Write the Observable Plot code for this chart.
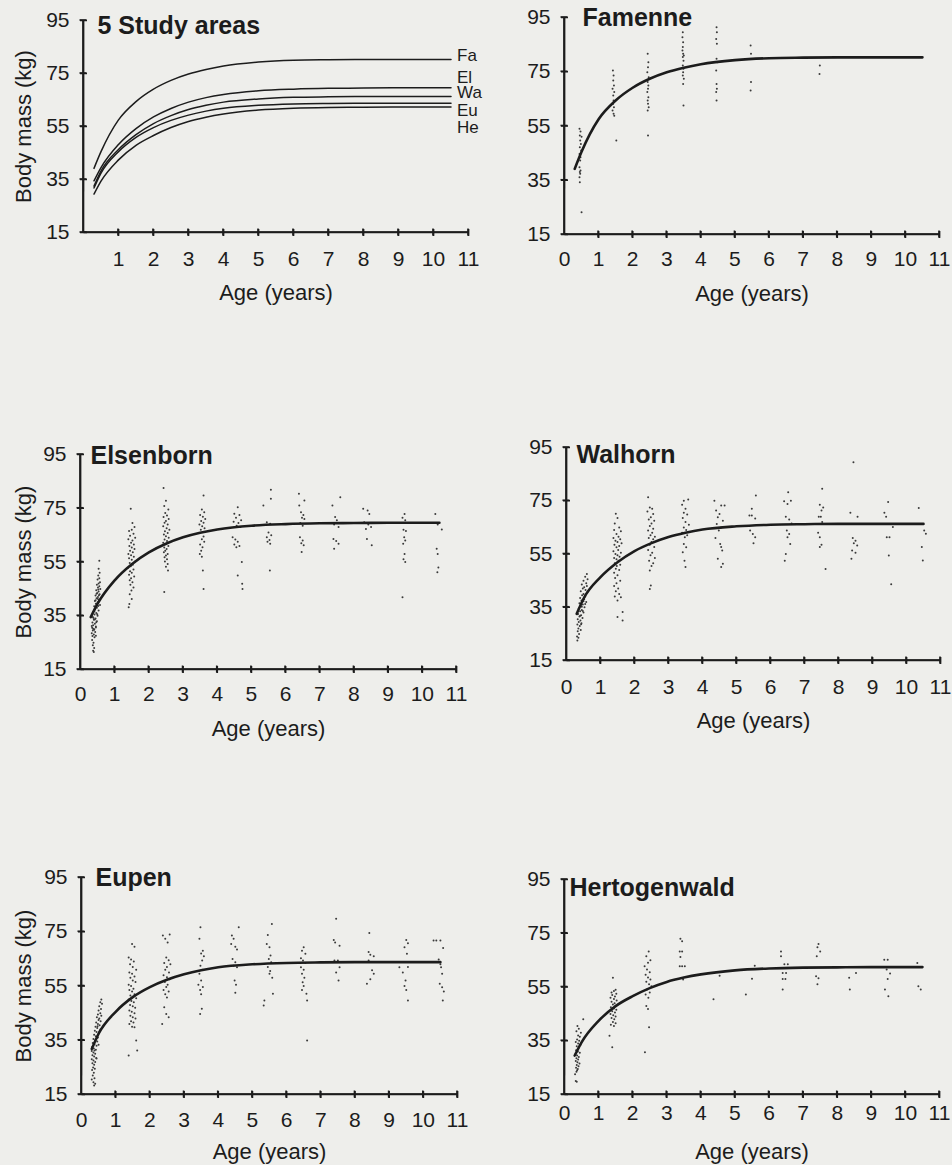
<!DOCTYPE html>
<html>
<head>
<meta charset="utf-8">
<script src="https://cdn.jsdelivr.net/npm/d3@7"></script>
<script src="https://cdn.jsdelivr.net/npm/@observablehq/plot@0.6"></script>
<style>
  body { margin: 0; background: #eeeeeb; }
  #root { position: relative; width: 952px; height: 1165px; overflow: hidden; }
  .panel { position: absolute; width: 476px; }
</style>
</head>
<body>
<div id="root"></div>
<script>
// ---------- DATA ----------
const areaNames = ["Famenne", "Elsenborn", "Walhorn", "Eupen", "Hertogenwald"];
const areaCodes = ["Fa", "El", "Wa", "Eu", "He"];
const xTicksAll = [0, 1, 2, 3, 4, 5, 6, 7, 8, 9, 10, 11];
const xTicksNoZero = [1, 2, 3, 4, 5, 6, 7, 8, 9, 10, 11];
const yTicks = [15, 35, 55, 75, 95];

// fitted growth curves (age in years, body mass in kg)
const curveAge = [0.3, 0.5, 1, 1.5, 2, 2.5, 3, 3.5, 4, 5, 6, 7, 8, 9, 10.5];
const curveFamenne      = [39.2, 45.5, 57.5, 64.4, 69.1, 72.4, 74.8, 76.5, 77.8, 79.3, 80.0, 80.2, 80.3, 80.3, 80.3];
const curveElsenborn    = [34.5, 39.5, 48.2, 54.2, 58.6, 61.8, 64.2, 65.9, 67.1, 68.5, 69.1, 69.4, 69.5, 69.6, 69.6];
const curveWalhorn      = [32.5, 38.2, 46.3, 51.9, 56.1, 59.1, 61.4, 63.0, 64.2, 65.4, 66.0, 66.2, 66.3, 66.3, 66.3];
const curveEupen        = [31.8, 37.4, 45.5, 50.9, 54.6, 57.3, 59.3, 60.8, 61.9, 63.0, 63.5, 63.7, 63.8, 63.8, 63.8];
const curveHertogenwald = [29.5, 34.4, 42.4, 47.9, 51.6, 54.6, 56.9, 58.5, 59.7, 61.2, 61.9, 62.2, 62.3, 62.4, 62.4];

// individual observations [age, mass]
const famennePts = [
 [0.44,54],[0.47,53],[0.45,51.5],[0.5,51],[0.46,49.7],[0.48,48.4],[0.45,47.2],[0.49,46],[0.44,44.7],[0.47,43.5],[0.46,42.3],[0.44,39.8],[0.47,38.6],[0.45,38],[0.46,37.4],[0.44,36.1],[0.45,34.3],[0.5,23.2],
 [1.42,75.5],[1.44,73.6],[1.43,71.8],[1.45,69.9],[1.41,68.7],[1.46,67.5],[1.43,66.2],[1.44,64.4],[1.42,63.1],[1.45,61.9],[1.41,60.7],[1.44,59.5],[1.46,58.8],[1.52,49.7],
 [2.44,81.6],[2.46,78.5],[2.45,76.7],[2.43,74.8],[2.47,73],[2.44,71.2],[2.46,69.9],[2.45,68.7],[2.43,67.5],[2.46,65.6],[2.44,64.4],[2.45,63.2],[2.47,61.9],[2.44,60.7],[2.45,51.5],
 [3.47,89.6],[3.46,87.7],[3.48,85.9],[3.47,84.1],[3.46,82.8],[3.48,81.6],[3.5,81],[3.47,80.4],[3.49,79.1],[3.47,77.3],[3.49,76.1],[3.48,74.8],[3.47,73.6],[3.5,72.4],[3.48,70.5],[3.49,62.6],
 [4.46,91.4],[4.47,89.6],[4.45,87.1],[4.47,85.3],[4.46,79.8],[4.48,78.5],[4.45,75.5],[4.46,70.5],[4.47,68.7],[4.45,67.5],[4.46,64.4],
 [5.46,84.7],[5.47,81.6],[5.47,71.2],[5.46,68.1],
 [7.49,77.3],[7.48,74.2]
];
const elsenbornPts = [
 [0.55,55.5],[0.53,52.5],[0.56,51],[0.52,50],[0.55,49],[0.5,48.5],[0.57,47.5],[0.53,47],[0.48,46.5],[0.55,46],[0.51,45.5],[0.58,45],[0.46,44.5],[0.53,44],[0.49,43.5],[0.56,43],[0.44,42.5],[0.51,42],[0.47,41.5],[0.54,41],[0.42,40.5],[0.5,40],[0.45,39.5],[0.57,39],[0.4,38.5],[0.48,38],[0.43,37.5],[0.53,37],[0.38,36.5],[0.46,36],[0.41,35.5],[0.5,35],[0.36,34.5],[0.44,34],[0.39,33.5],[0.48,33],[0.35,32.5],[0.42,32],[0.37,31.5],[0.45,31],[0.34,30.5],[0.4,30],[0.36,29.5],[0.43,29],[0.33,28.5],[0.39,28],[0.35,27.5],[0.41,27],[0.34,26],[0.38,25],[0.36,24],[0.4,23],[0.37,22],[0.39,21.5],[0.52,44.8],[0.47,43.2],[0.44,40.8],[0.52,38.6],[0.41,36.8],[0.49,35.6],[0.38,34.2],[0.46,32.6],[0.33,31.2],[0.4,29.8],[0.45,30.6],[0.5,41.3],[0.54,42.6],[0.42,33.6],[0.37,30.2],[0.45,27.6],
 [1.47,74.8],[1.52,69.5],[1.58,68],[1.5,67],[1.42,66.5],[1.55,65.5],[1.45,64.8],[1.6,64],[1.4,63.5],[1.52,63],[1.48,62.2],[1.56,61.5],[1.43,61],[1.5,60.4],[1.58,59.8],[1.45,59.2],[1.53,58.6],[1.4,58],[1.48,57.5],[1.56,57],[1.42,56.4],[1.5,55.8],[1.6,55.2],[1.44,54.6],[1.53,54],[1.47,53.4],[1.38,52.8],[1.55,52.2],[1.45,51.6],[1.5,51],[1.42,50.3],[1.57,49.6],[1.48,49],[1.44,48.2],[1.52,47.5],[1.46,46.5],[1.55,45.5],[1.49,44.4],[1.44,43],[1.5,41.2],[1.43,39.4],[1.41,38.2],
 [2.43,82.5],[2.5,77.8],[2.45,75.8],[2.57,74.5],[2.48,73.2],[2.53,72.3],[2.43,71.7],[2.58,71],[2.5,70.3],[2.46,69.6],[2.55,69],[2.42,68.3],[2.52,67.6],[2.6,67],[2.47,66.4],[2.55,65.8],[2.44,65.2],[2.5,64.6],[2.58,64],[2.46,63.4],[2.53,62.8],[2.42,62.2],[2.5,61.6],[2.57,61],[2.45,60.4],[2.52,59.8],[2.48,59.2],[2.44,58.6],[2.55,58],[2.5,57.4],[2.46,56.8],[2.53,56],[2.47,55.2],[2.55,54.3],[2.5,53.2],[2.56,51.8],[2.45,43.8],
 [3.6,79.7],[3.55,74.5],[3.62,73.5],[3.5,72.5],[3.58,71.8],[3.65,71],[3.53,70.3],[3.6,69.6],[3.48,69],[3.56,68.3],[3.63,67.6],[3.52,67],[3.58,66.2],[3.6,64.5],[3.55,63.5],[3.62,62.5],[3.5,61.5],[3.57,60.5],[3.53,59.2],[3.49,58],[3.55,57],[3.58,51.8],[3.6,45],
 [4.6,75.4],[4.5,73],[4.65,72.5],[4.55,71.5],[4.7,70.5],[4.48,70],[4.62,69.5],[4.57,68.5],[4.68,68],[4.45,64.2],[4.53,63.4],[4.6,62.5],[4.5,61.5],[4.65,61],[4.56,60.5],[4.72,55],[4.6,50],[4.73,46.9],[4.74,45],
 [5.57,81.9],[5.57,78.5],[5.35,76],[5.45,69.8],[5.55,69.2],[5.5,66],[5.58,65],[5.45,64.2],[5.53,63.2],[5.47,62.5],[5.55,61.8],[5.54,51.8],
 [6.39,80.4],[6.55,77.9],[6.4,76],[6.45,73.5],[6.52,72.5],[6.48,71.5],[6.55,71],[6.43,69.5],[6.5,68.5],[6.42,64.2],[6.5,63],[6.46,62],[6.53,61.2],[6.47,58.7],
 [7.6,79.1],[7.37,76],[7.45,71.7],[7.5,70.5],[7.42,69],[7.55,68],[7.4,63.6],[7.48,62.8],[7.55,61.8],[7.42,59.9],
 [8.27,74.8],[8.4,74.2],[8.45,72.9],[8.3,69.8],[8.42,69],[8.5,68],[8.35,67.3],[8.38,63.6],[8.52,61.2],
 [9.48,72.9],[9.42,71.5],[9.5,70.5],[9.45,67],[9.52,66.5],[9.47,64.2],[9.5,63],[9.44,61.8],[9.48,58],[9.45,56],[9.5,55],[9.42,41.9],
 [10.38,72.9],[10.45,69],[10.57,67.1],[10.42,59.9],[10.45,58],[10.47,53],[10.44,51.2]
];
const walhornPts = [
 [0.6,47.5],[0.55,46.5],[0.62,45.5],[0.5,45],[0.58,44],[0.45,43.5],[0.6,43],[0.52,42.5],[0.48,42],[0.56,41.5],[0.42,41],[0.6,40.5],[0.5,40],[0.46,39.5],[0.55,39],[0.4,38.5],[0.52,38],[0.44,37.5],[0.58,37],[0.38,36.5],[0.48,36],[0.42,35.5],[0.53,35],[0.36,34.5],[0.45,34],[0.4,33.5],[0.5,33],[0.34,32.5],[0.43,32],[0.38,31.5],[0.47,31],[0.33,30.5],[0.41,30],[0.36,29.5],[0.44,29],[0.32,28.5],[0.39,28],[0.35,27],[0.42,26.5],[0.33,26],[0.37,25],[0.31,24],[0.35,23.5],[0.32,22.5],[0.5,37.3],[0.45,35.2],[0.55,36.2],[0.4,31.8],[0.48,33.6],[0.43,28.6],
 [1.45,70.1],[1.5,68.5],[1.42,66.5],[1.55,65],[1.4,64],[1.6,63.5],[1.47,62.5],[1.53,61.5],[1.38,61],[1.58,60.5],[1.44,60],[1.5,59.5],[1.62,59],[1.41,58.5],[1.55,58],[1.47,57.5],[1.52,56.5],[1.38,56],[1.6,55.5],[1.44,55],[1.5,54.5],[1.56,54],[1.4,53.5],[1.47,53],[1.53,52.5],[1.42,51.5],[1.58,51],[1.48,50.5],[1.45,49.5],[1.55,49],[1.4,48],[1.5,47],[1.43,46],[1.58,45],[1.47,44],[1.4,43],[1.52,42],[1.45,41],[1.55,40],[1.42,39],[1.6,38.8],[1.5,37.5],[1.65,33.2],[1.65,30],[1.5,31.3],
 [2.4,76.3],[2.45,72.5],[2.52,72],[2.38,71],[2.55,70],[2.48,68.8],[2.42,68],[2.58,67.5],[2.5,66.5],[2.45,65.5],[2.55,64.5],[2.4,63.8],[2.52,63],[2.47,62],[2.6,61.5],[2.42,61],[2.55,60.5],[2.5,59.5],[2.45,58.5],[2.58,57.6],[2.4,56.5],[2.52,55.5],[2.47,54.5],[2.6,53.5],[2.43,52.5],[2.55,51.5],[2.5,50.5],[2.45,48.8],[2.48,43.2],[2.45,41.9],
 [3.45,75],[3.58,75.5],[3.4,73.5],[3.5,72],[3.45,70.5],[3.55,69.8],[3.42,68.5],[3.5,67],[3.6,66],[3.45,65],[3.52,64],[3.4,63],[3.55,62],[3.48,61.3],[3.45,58.8],[3.52,57.5],[3.42,55.7],[3.47,52.5],[3.5,50.1],
 [4.35,75],[4.55,73.2],[4.65,73.2],[4.4,71.3],[4.5,70],[4.45,68.8],[4.6,67.5],[4.42,66.3],[4.55,65],[4.48,63.8],[4.38,61],[4.52,58.8],[4.55,57.6],[4.58,56.3],[4.45,53.2],[4.6,51.3],[4.55,50.1],
 [5.57,77],[5.45,72],[5.38,69.5],[5.45,69.5],[5.55,68.3],[5.4,63.8],[5.48,62.5],[5.55,61.3],[5.5,59],
 [6.52,78.2],[6.6,75],[6.4,74.8],[6.5,73.8],[6.45,69],[6.55,68],[6.62,66.5],[6.48,63.8],[6.55,62.5],[6.5,61.3],[6.58,58.8],[6.45,55],[6.42,52.5],
 [7.52,79.5],[7.45,73.5],[7.55,72.5],[7.5,71.3],[7.42,69],[7.48,69],[7.52,67],[7.4,63],[7.45,61.3],[7.5,58.5],[7.45,57.6],[7.62,49.4],
 [8.44,89.5],[8.35,70.5],[8.56,69],[8.42,61],[8.5,60],[8.45,59],[8.55,58.2],[8.4,56.3],[8.5,55.5],[8.38,53.2],
 [9.46,74.5],[9.35,70.5],[9.4,69],[9.6,65.1],[9.42,61.3],[9.5,61.3],[9.48,54.4],[9.55,43.6],
 [10.36,72.3],[10.57,62.6],[10.52,63.8],[10.45,57.6],[10.48,52.6]
];
const eupenPts = [
 [0.58,50],[0.55,49],[0.6,48.5],[0.52,47.5],[0.57,46.5],[0.5,46],[0.55,45],[0.48,44.5],[0.58,44],[0.45,43.5],[0.52,43],[0.5,42.5],[0.56,42],[0.43,41.5],[0.48,41],[0.53,40.5],[0.41,40],[0.46,39.5],[0.55,39],[0.39,38.5],[0.44,38],[0.5,37.5],[0.37,37],[0.42,36.5],[0.48,36],[0.35,35.5],[0.4,35],[0.46,34.5],[0.33,34],[0.38,33.5],[0.44,33],[0.31,32.5],[0.36,32],[0.42,31.5],[0.3,31],[0.35,30.5],[0.4,30],[0.32,29.5],[0.37,29],[0.43,28.5],[0.3,28],[0.35,27.5],[0.4,27],[0.32,26.5],[0.37,26],[0.34,25],[0.39,24.5],[0.31,24],[0.36,23],[0.33,22],[0.38,21],[0.3,20.5],[0.35,19.5],[0.4,19],[0.37,18.3],[0.47,40.2],[0.52,38.2],[0.45,35.8],[0.5,33.3],[0.38,31.2],[0.44,28.3],
 [1.48,70.5],[1.55,69.5],[1.38,65.5],[1.45,64.8],[1.53,64],[1.42,63],[1.5,62],[1.6,61],[1.4,60],[1.48,59.5],[1.55,58.5],[1.43,58],[1.5,57],[1.58,56.5],[1.38,55.5],[1.45,55],[1.52,54],[1.4,53.5],[1.48,53],[1.55,52],[1.43,51.5],[1.5,51],[1.6,50.5],[1.38,50],[1.46,49.5],[1.53,49],[1.42,48],[1.5,47.5],[1.57,47],[1.4,46],[1.47,45.5],[1.55,45],[1.43,44],[1.5,43.5],[1.58,43],[1.45,42],[1.52,41.5],[1.4,41],[1.48,40],[1.55,39.8],[1.6,34.9],[1.63,31.2],[1.38,29.4],
 [2.38,73.6],[2.58,74],[2.45,72.4],[2.52,71],[2.48,65.5],[2.55,64.5],[2.42,63.5],[2.6,63],[2.5,62],[2.45,61],[2.56,60],[2.4,59],[2.5,58.2],[2.58,57.5],[2.44,56.5],[2.52,55.5],[2.48,54.6],[2.4,53.5],[2.55,53],[2.45,52],[2.5,50.8],[2.42,47.2],[2.48,44.7],[2.55,43.5],[2.36,41],
 [3.48,76.7],[3.45,72.4],[3.55,68],[3.5,67],[3.58,66],[3.53,64.4],[3.48,62.5],[3.55,61],[3.45,59.5],[3.5,57],[3.42,55.5],[3.55,54.6],[3.47,53.5],[3.5,52],[3.52,46.6],[3.47,44.7],
 [4.6,76.7],[4.4,73.6],[4.45,72.4],[4.38,70.5],[4.5,69.5],[4.55,68.5],[4.42,65],[4.5,63.8],[4.45,62.5],[4.55,61.9],[4.48,57],[4.52,55.5],[4.5,52.5],
 [5.57,77.9],[5.45,73.8],[5.42,70.5],[5.5,69.3],[5.53,66.2],[5.48,65],[5.55,63.8],[5.45,62],[5.52,60.5],[5.5,59.5],[5.58,58],[5.6,52.1],[5.35,49.7],[5.33,47.8],
 [6.5,69.3],[6.45,68],[6.55,66.9],[6.42,65.2],[6.48,64.4],[6.55,63.5],[6.42,61.9],[6.5,61],[6.45,59.5],[6.52,58],[6.47,56.4],[6.5,55],[6.45,53.5],[6.58,52.1],[6.6,49.7],[6.6,34.9],
 [7.45,79.8],[7.38,72],[7.42,71],[7.55,69.8],[7.4,64.4],[7.5,64.4],[7.55,61.9],[7.45,60],[7.52,57],
 [8.42,74.5],[8.4,67.5],[8.45,66.5],[8.55,66],[8.4,64.4],[8.5,60.8],[8.55,59.5],[8.35,55.8],[8.45,57.5],
 [9.5,72],[9.55,70.8],[9.45,69.3],[9.52,66.9],[9.3,61.9],[9.55,62],[9.4,60],[9.48,57],[9.45,55],[9.5,53.5],[9.55,49.7],
 [10.3,71.8],[10.38,71.8],[10.5,71.8],[10.58,69],[10.45,64.8],[10.5,63],[10.52,61.9],[10.55,59.5],[10.48,55.8],[10.55,54.5],[10.6,53],[10.57,49.7]
];
const hertogenwaldPts = [
 [0.55,43],[0.38,40.5],[0.42,39.5],[0.35,38.5],[0.48,38],[0.4,37],[0.45,36.5],[0.37,35.5],[0.43,35],[0.33,34.5],[0.4,34],[0.47,33.5],[0.36,33],[0.42,32.5],[0.34,31.5],[0.39,31],[0.45,30.5],[0.32,30],[0.37,29.5],[0.42,29],[0.35,28.5],[0.4,28],[0.33,27.5],[0.38,27],[0.44,26.5],[0.36,26],[0.41,25.5],[0.34,25],[0.39,24.5],[0.37,24],[0.35,23.5],[0.33,20],[0.36,19.7],[0.31,22.5],
 [1.42,58.4],[1.5,54],[1.45,53.5],[1.38,53],[1.52,52.5],[1.4,52],[1.48,51.5],[1.35,51],[1.45,50.5],[1.53,50],[1.38,49.5],[1.47,49],[1.42,48.5],[1.5,48],[1.36,47.5],[1.45,47],[1.52,46.5],[1.4,46],[1.48,45.5],[1.35,45],[1.43,44.5],[1.5,44],[1.38,43.5],[1.46,43],[1.42,42],[1.5,41.5],[1.36,41],[1.45,40.5],[1.32,36.9],[1.4,32.6],
 [2.47,68.2],[2.4,66.4],[2.52,65],[2.45,64],[2.35,62.7],[2.42,61.5],[2.5,60.5],[2.38,59.6],[2.45,58.5],[2.52,57.8],[2.4,57],[2.48,56],[2.55,55.3],[2.42,54.1],[2.5,53],[2.38,52.2],[2.46,51],[2.4,47.9],[2.45,46.8],[2.48,40],[2.36,30.7],
 [3.4,73],[3.45,72],[3.38,68.2],[3.45,68.2],[3.4,66.2],[3.38,62.7],[3.45,62.7],[3.53,62.7],[3.48,57.8],
 [4.37,50.4],[4.55,59.2],
 [5.58,62.9],[5.5,58.1],[5.32,52.2],
 [6.35,68.2],[6.35,66.4],[6.45,63.5],[6.55,63.5],[6.4,60.2],[6.5,60.2],[6.4,58],[6.48,58],[6.4,54.1],
 [7.45,71],[7.42,69.8],[7.5,68.2],[7.4,66.4],[7.38,59],[7.45,58.3],[7.42,56],
 [8.35,58.4],[8.55,60.2],[8.37,54.1],
 [9.38,65.1],[9.48,65.1],[9.45,61.5],[9.55,60],[9.48,58],[9.4,54.1],[9.5,51.6],
 [10.35,63.9],[10.38,55.3],[10.45,54.1]
];

// ---------- BUILD ----------
const curveMass = [curveFamenne, curveElsenborn, curveWalhorn, curveEupen, curveHertogenwald];
const curves = areaNames.map((name, i) => ({
  name, code: areaCodes[i],
  pts: curveAge.map((a, j) => ({age: a, mass: curveMass[i][j]}))
}));
const ptsByArea = [famennePts, elsenbornPts, walhornPts, eupenPts, hertogenwaldPts];

const ink = "#1c1c1c";
const fontFamily = "'Liberation Sans', Arial, Helvetica, sans-serif";

// layout: pixel geometry of each panel (ml/mr/mt/mb locate x=0, x=11, y=95, y=15)
const layout = [
  {left: 0,   top: 0,   h: 310, ml: 83, mr: 8,  mt: 20, mb: 78, pad: 19, tdx: 14, tdy: 5, ady: 60, ylab: true,  xt: xTicksNoZero},
  {left: 476, top: 0,   h: 310, ml: 88, mr: 13, mt: 17, mb: 76, pad: 17, tdx: 18, tdy: 0, ady: 59, ylab: false, xt: xTicksAll},
  {left: 0,   top: 430, h: 320, ml: 80, mr: 20, mt: 24, mb: 81, pad: 17, tdx: 10, tdy: 1, ady: 59, ylab: true,  xt: xTicksAll},
  {left: 476, top: 430, h: 320, ml: 90, mr: 12, mt: 17, mb: 90, pad: 19, tdx: 10, tdy: 7, ady: 60, ylab: false, xt: xTicksAll},
  {left: 0,   top: 850, h: 315, ml: 81, mr: 19, mt: 27, mb: 71, pad: 18, tdx: 14, tdy: 0, ady: 57, ylab: true,  xt: xTicksAll},
  {left: 476, top: 850, h: 315, ml: 88, mr: 13, mt: 29, mb: 71, pad: 11, tdx: 5,  tdy: 8, ady: 57, ylab: false, xt: xTicksAll}
];
const titles = ["5 Study areas", ...areaNames];
const legendDy = [-4, -10, -4, 7, 21];
const PAD = 6; // frame padding in px so the axis marks sit inside the plotting frame

const root = document.getElementById("root");

layout.forEach((L, p) => {
  const W = 476;
  const pxY = (L.h - L.mt - L.mb) / 80;
  const pxX = (W - L.ml - L.mr) / 11;
  const ux = 1 / pxX, uy = 1 / pxY;       // one pixel in data units
  const tick = 3.5, half = 0.85;           // tick half-length and line half-width, px
  const eps = 0.02;                        // tiny slant (px) so no segment is perfectly degenerate

  // axis lines and crossing ticks as thin filled rectangles
  const axisRects = [
    {x1: -half * ux, x2: half * ux, y1: 15 - half * uy, y2: 95},
    {x1: -half * ux, x2: 11, y1: 15 - half * uy, y2: 15 + half * uy}
  ];
  L.xt.filter(d => d > 0).forEach(t => axisRects.push(
    {x1: t - 0.8 * ux, x2: t + 0.8 * ux, y1: 15 - tick * uy, y2: 15 + tick * uy}));
  yTicks.forEach(t => axisRects.push(
    {x1: -tick * ux, x2: tick * ux, y1: t - 0.8 * uy, y2: t + 0.8 * uy}));

  // the same axes as two-point line segments (age/mass fields, like the curves)
  const axisSegs = [
    [{age: 0, mass: 15}, {age: eps * ux, mass: 95}],
    [{age: 0, mass: 15}, {age: 11, mass: 15 + eps * uy}]
  ];
  L.xt.filter(d => d > 0).forEach(t => axisSegs.push(
    [{age: t, mass: 15 - tick * uy}, {age: t + eps * ux, mass: 15 + tick * uy}]));
  yTicks.forEach(t => axisSegs.push(
    [{age: -tick * ux, mass: t}, {age: tick * ux, mass: t + eps * uy}]));

  const marks = [
    Plot.text([titles[p]], {frameAnchor: "top-left", dx: L.tdx + PAD, dy: L.tdy + PAD, textAnchor: "start", lineAnchor: "middle",
      fontWeight: "bold", fontSize: 25, fill: ink}),
    Plot.text(["Age (years)"], {frameAnchor: "bottom", dy: L.ady - PAD, textAnchor: "middle", lineAnchor: "middle", fontSize: 22, fill: ink})
  ];
  if (L.ylab) {
    marks.push(Plot.text(["Body mass (kg)"], {frameAnchor: "left", dx: 23 - (L.ml - PAD), rotate: -90,
      textAnchor: "middle", lineAnchor: "middle", fontSize: 22, fill: ink}));
  }
  if (p === 0) {
    curves.forEach((c, i) => {
      marks.push(Plot.line(c.pts, {x: "age", y: "mass", curve: "monotone-x", stroke: ink, strokeWidth: 1.5}));
      const last = c.pts[c.pts.length - 1];
      marks.push(Plot.text([last], {x: "age", y: "mass", text: () => c.code, dx: 6, dy: legendDy[i],
        textAnchor: "start", lineAnchor: "middle", fontSize: 17, fill: ink}));
    });
  } else {
    const i = p - 1;
    marks.push(Plot.dot(ptsByArea[i], {x: d => d[0], y: d => d[1], r: 1, fill: "#3a3a3a", stroke: null}));
    marks.push(Plot.line(curves[i].pts, {x: "age", y: "mass", curve: "monotone-x", stroke: ink, strokeWidth: 2.6}));
  }
  marks.push(Plot.rect(axisRects, {x1: "x1", x2: "x2", y1: "y1", y2: "y2", fill: ink}));
  axisSegs.forEach(seg => {
    marks.push(Plot.line(seg, {x: "age", y: "mass", stroke: ink, strokeWidth: 1.7, strokeLinecap: "butt"}));
  });

  const svg = Plot.plot({
    width: W, height: L.h,
    marginLeft: L.ml - PAD, marginRight: Math.max(0, L.mr - PAD), marginTop: L.mt - PAD, marginBottom: L.mb - PAD,
    style: {background: "transparent", fontFamily, fontSize: "21px", color: ink, overflow: "visible"},
    x: {domain: [0 - PAD * ux, 11 + (Math.min(PAD, L.mr)) * ux], ticks: L.xt, tickSize: 0, tickPadding: L.pad - PAD, label: null, tickFormat: d => String(d)},
    y: {domain: [15 - PAD * uy, 95 + PAD * uy], ticks: yTicks, tickSize: 0, tickPadding: 14 - PAD, label: null, tickFormat: d => String(d)},
    marks
  });
  const wrap = document.createElement("div");
  wrap.className = "panel";
  wrap.style.left = L.left + "px";
  wrap.style.top = L.top + "px";
  wrap.append(svg);
  root.append(wrap);
});
</script>
</body>
</html>
